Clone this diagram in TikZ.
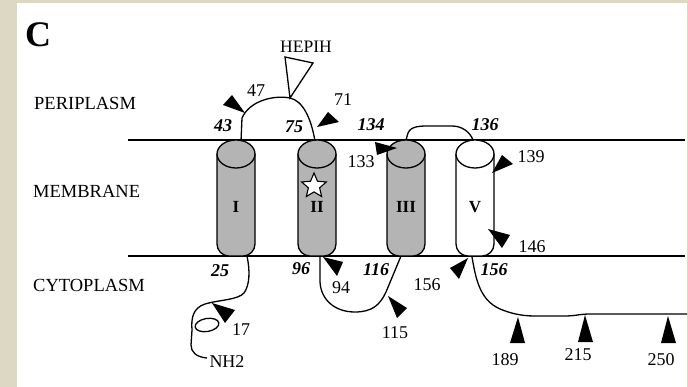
\documentclass[tikz,border=0pt]{standalone}
\usepackage{fontspec}
\setmainfont{Liberation Serif}
\usetikzlibrary{shapes.geometric}
\definecolor{beige}{RGB}{221,216,196}
\definecolor{hgray}{RGB}{180,180,180}
\begin{document}
\begin{tikzpicture}[x=1pt,y=-1pt,
  lab/.style={font=\fontsize{18}{20}\selectfont, inner sep=0pt},
  ital/.style={font=\fontsize{18}{20}\selectfont\bfseries\itshape, inner sep=0pt},
  region/.style={font=\fontsize{18.5}{20}\selectfont, inner sep=0pt, anchor=west},
  roman/.style={font=\fontsize{17}{18}\selectfont\bfseries, inner sep=0pt},
  tri/.style={fill=black},
  chain/.style={line width=1.3pt},
  memb/.style={line width=1.5pt},
  helixbody/.style={draw, line width=1.3pt}]
\useasboundingbox (0,0) rectangle (688,387);
\fill[beige] (0,0) rectangle (688,387);
\fill[white] (17,3) rectangle (687,387);

% membrane
\coordinate (mtl) at (128,140); \coordinate (mtr) at (685,140);
\coordinate (mbl) at (128,256); \coordinate (mbr) at (685,256);
\draw[memb] (mtl) -- (mtr);
\draw[memb] (mbl) -- (mbr);

% helices
\foreach \c/\f/\n in {236/hgray/I, 317/hgray/II, 406/hgray/III, 475/white/V}{
  \draw[helixbody, fill=\f, rounded corners=12pt] (\c-19,154) -- (\c-19,256) -- (\c+19,256) -- (\c+19,154);
  \draw[helixbody, fill=\f] (\c,154) ellipse [x radius=19, y radius=14];
  \node[roman] (h\n) at (\c,207) {\n};
}
\node[star, star points=5, star point ratio=2.2, minimum size=26pt, inner sep=0pt, draw, fill=white, line width=1.1pt] (star) at (314,186) {};

% loops
\draw[chain] (241,141) -- (242,118) .. controls (250,100) and (275,95) .. (290,98) .. controls (303,101) and (311,118) .. (315,141);
\draw[line width=1.3pt, fill=white, line join=miter] (290,98) -- (285,57) -- (313,63) -- cycle;
\draw[chain] (406,140) -- (408,133) .. controls (411,126) and (420,126) .. (430,126) -- (452,126) .. controls (462,126) and (470,132) .. (473,140);
\draw[chain] (320,256) -- (320,282) .. controls (321,300) and (335,312) .. (355,312) .. controls (372,312) and (380,305) .. (386,292) -- (401,256);
\draw[chain] (247,256) .. controls (250,270) and (250,285) .. (244,293) .. controls (238,300) and (218,300) .. (205,304) .. controls (193,308) and (191,318) .. (192,330) -- (191,345) .. controls (191,352) and (196,357) .. (207,358);
\node[ellipse, draw, line width=1.3pt, minimum width=24pt, minimum height=13pt, rotate=10, inner sep=0pt] (knot) at (207,325) {};
\draw[chain] (472,257) .. controls (476,280) and (480,300) .. (500,309) .. controls (510,313) and (520,316) .. (535,316) -- (565,316) .. controls (575,316) and (580,314) .. (590,314) -- (687,314);

% cleavage markers
\fill[tri] (223,105) -- (232,95) -- (245,113) -- cycle;
\fill[tri] (317,127) -- (328,112) -- (339,122) -- cycle;
\fill[tri] (375,142) -- (377,155) -- (397,148) -- cycle;
\fill[tri] (492,173) -- (502,155) -- (513,164) -- cycle;
\fill[tri] (488,229) -- (510,235) -- (502,248) -- cycle;
\fill[tri] (468,258) -- (450,268) -- (459,279) -- cycle;
\fill[tri] (323,257) -- (343,262) -- (337,276) -- cycle;
\fill[tri] (388,296) -- (407,308) -- (397,318) -- cycle;
\fill[tri] (212,303) -- (235,310) -- (225,323) -- cycle;
\fill[tri] (518,317) -- (510,343) -- (525,343) -- cycle;
\fill[tri] (585,315) -- (578,342) -- (593,342) -- cycle;
\fill[tri] (668,316) -- (661,343) -- (676,343) -- cycle;

% labels
\node[font=\fontsize{36}{38}\selectfont\bfseries, inner sep=0pt] (panel) at (38,35) {C};
\node[font=\fontsize{17.5}{19}\selectfont, inner sep=0pt] (hepih) at (306,47) {HEPIH};
\node[region] (peri) at (34,103) {PERIPLASM};
\node[region] (mem) at (33,191) {MEMBRANE};
\node[region] (cyto) at (33,285) {CYTOPLASM};
\node[lab] (l47) at (256,91) {47};
\node[ital] (l43) at (223,126) {43};
\node[ital] (l75) at (294,127) {75};
\node[lab] (l71) at (343,100) {71};
\node[ital] (l134) at (371,125) {134};
\node[ital] (l136) at (485,125) {136};
\node[lab] (l133) at (361,162) {133};
\node[lab] (l139) at (531,157) {139};
\node[lab] (l146) at (532,247) {146};
\node[ital] (l156i) at (494,270) {156};
\node[lab] (l156) at (427,285) {156};
\node[ital] (l116) at (376,270) {116};
\node[ital] (l96) at (301,269) {96};
\node[ital] (l25) at (220,271) {25};
\node[lab] (l94) at (341,288) {94};
\node[lab] (l115) at (395,333) {115};
\node[lab] (l17) at (241,330) {17};
\node[lab] (nh2) at (227,362) {NH2};
\node[lab] (l189) at (505,360) {189};
\node[lab] (l215) at (578,355) {215};
\node[lab] (l250) at (661,360) {250};
\end{tikzpicture}
\end{document}
